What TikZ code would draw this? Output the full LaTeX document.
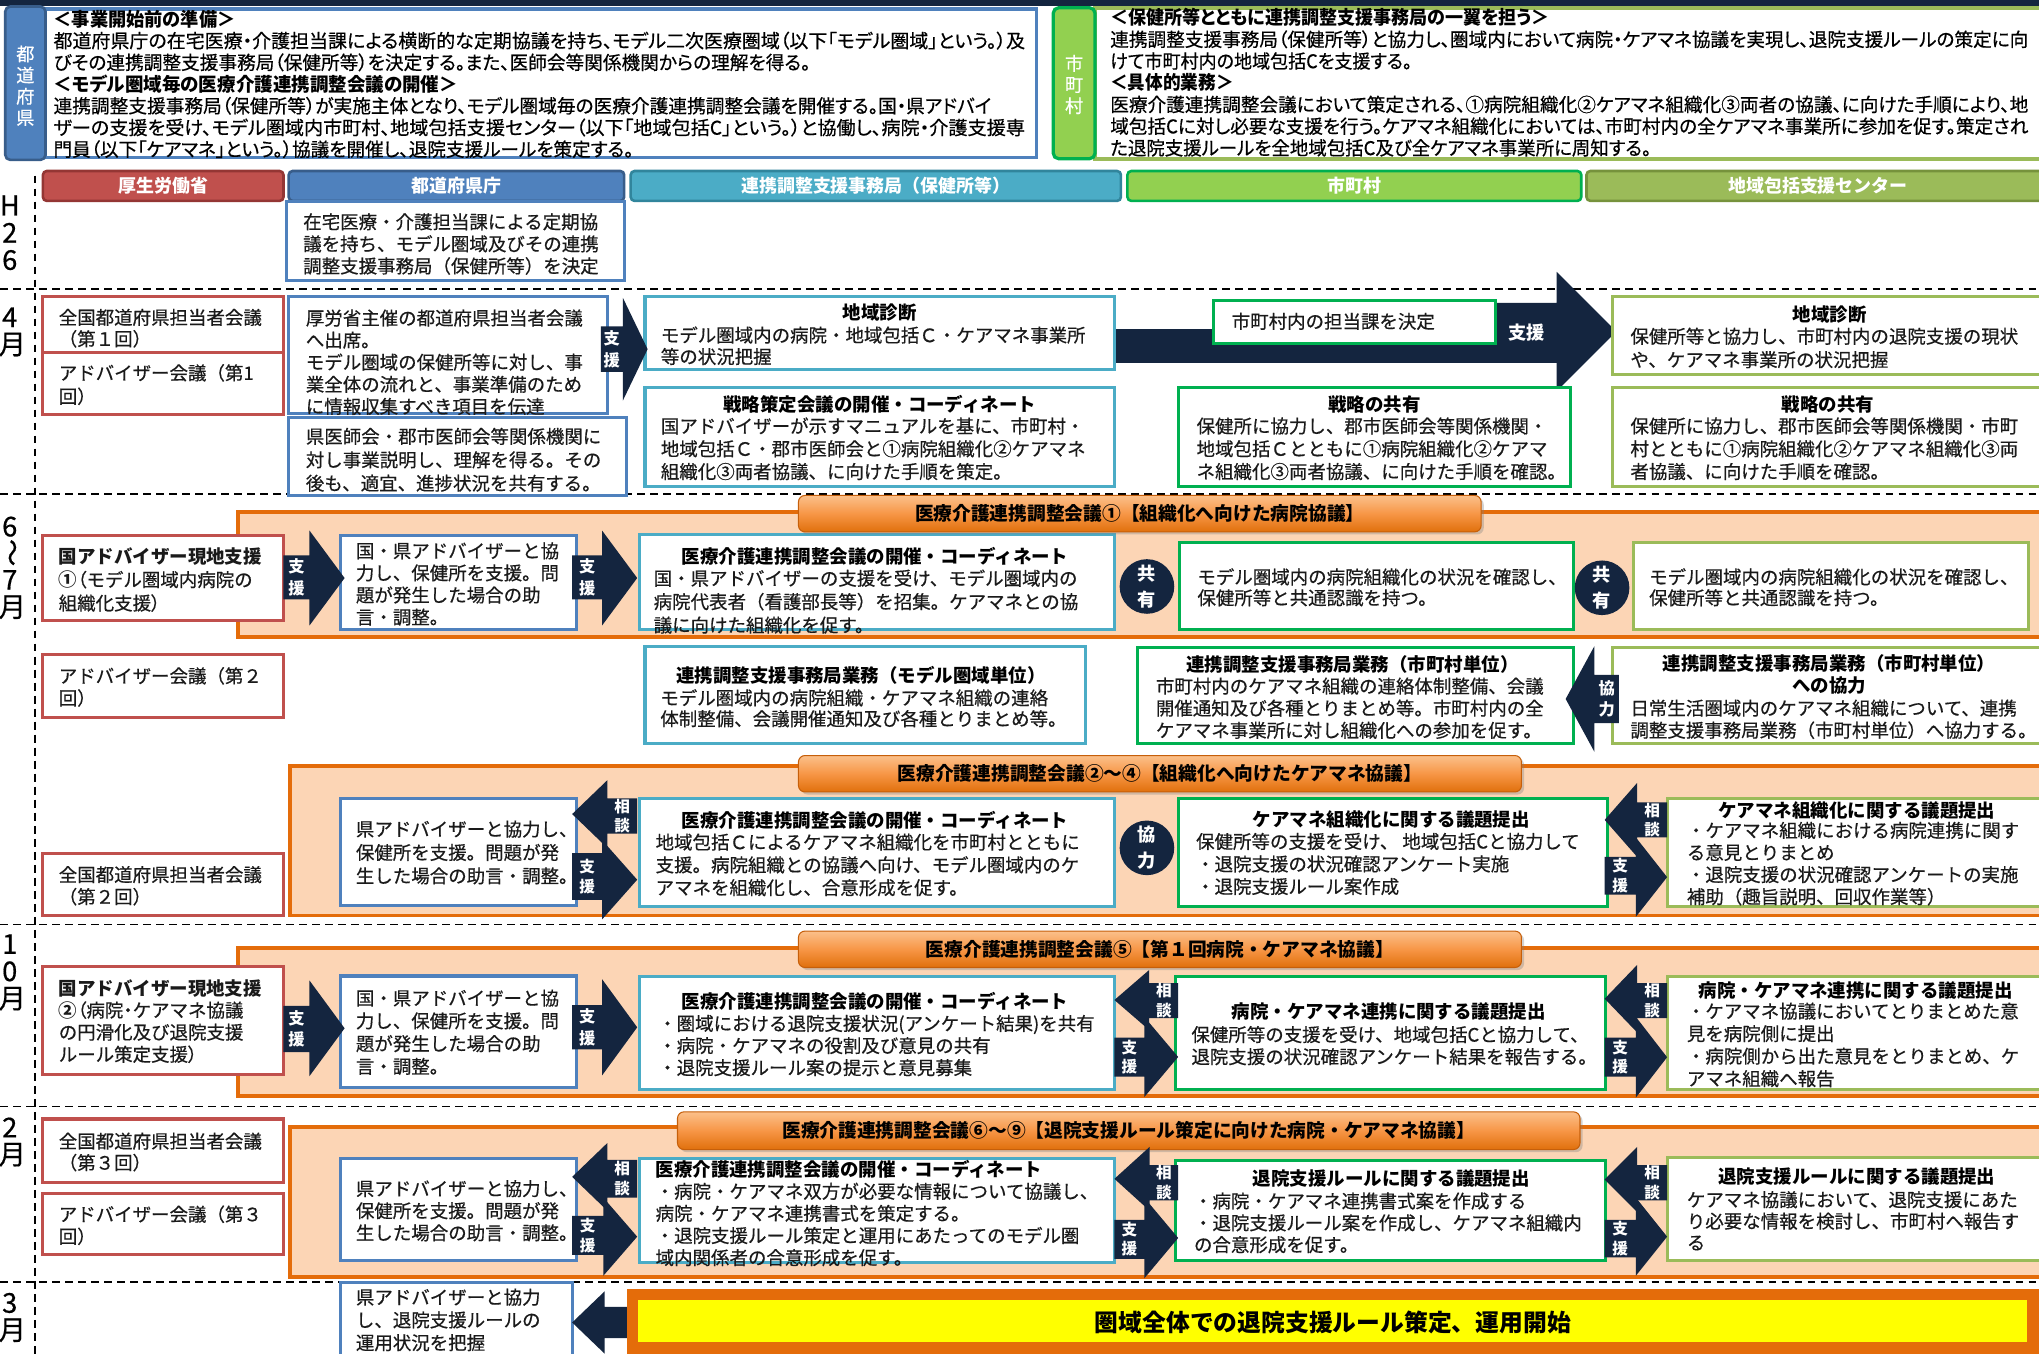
\documentclass[tikz,border=0pt]{standalone}
\usepackage{graphicx}
\usepackage{fontspec}
\setmainfont{Noto Sans CJK JP}[UprightFeatures={FakeBold=0.5}]
\newfontfamily\topfont{Noto Sans CJK JP}[RawFeature=+palt, UprightFeatures={FakeBold=0.5}]
\usetikzlibrary{fit,shadows}
\definecolor{navy}{HTML}{14253F}
\definecolor{cred}{HTML}{C0504D}
\definecolor{credd}{HTML}{943634}
\definecolor{cblue}{HTML}{4F81BD}
\definecolor{cblued}{HTML}{385D8A}
\definecolor{cteal}{HTML}{4BACC6}
\definecolor{cteald}{HTML}{31859C}
\definecolor{cgreen}{HTML}{00B050}
\definecolor{cgreenf}{HTML}{92D050}
\definecolor{colive}{HTML}{9BBB59}
\definecolor{colived}{HTML}{76923C}
\definecolor{corange}{HTML}{E46C0A}
\definecolor{cpeach}{HTML}{FCD5B5}
\definecolor{cbar}{HTML}{F79646}
\definecolor{cbart}{HTML}{FBC08A}
\definecolor{cbarb}{HTML}{E0700C}
\definecolor{cbard}{HTML}{C65F0A}
\definecolor{cyellow}{HTML}{FFFF00}
\definecolor{txt}{HTML}{1A1A1A}
\newcommand\fitln[2]{\resizebox{#1pt}{\height}{#2}}
\newcommand\arrR[7]{\fill[navy] (#1,#4) -- (#2,#4) -- (#2,#6) -- (#3,{(#6+#7)/2}) -- (#2,#7) -- (#2,#5) -- (#1,#5) -- cycle;}
\newcommand\arrL[7]{\fill[navy] (#3,#4) -- (#2,#4) -- (#2,#6) -- (#1,{(#6+#7)/2}) -- (#2,#7) -- (#2,#5) -- (#3,#5) -- cycle;}
\newcommand\mybox[6]{\node[#2, fit={(#3,#4)(#5,#6)}] (#1) {};}
\newcommand\bodyt[5][17]{\node[bt, font=\fontsize{14.2}{#1}\selectfont] (#2) at (#3,{#4-7.2}) {#5};}
\newcommand\ttlt[4]{\node[ttl] (#1) at (#2,#3) {#4};}
\tikzset{
  box/.style={draw, line width=2.4pt, fill=white, inner sep=0pt, rectangle},
  redbox/.style={box, draw=cred},
  bluebox/.style={box, draw=cblue},
  tealbox/.style={box, draw=cteal},
  greenbox/.style={box, draw=cgreen},
  olivebox/.style={box, draw=colive},
  bt/.style={anchor=north west, inner sep=0pt, align=left, text=txt, execute at begin node={\rule{0pt}{12.5pt}}},
  toptxt/.style={anchor=north west, inner sep=0pt, align=left, text=black, font=\topfont\fontsize{14.5}{16.7}\selectfont, execute at begin node={\rule{0pt}{12.5pt}}},
  ttl/.style={inner sep=0pt, text=black, font=\bfseries\fontsize{14.2}{17}\selectfont},
  hdr/.style={draw, line width=2pt, rounded corners=3pt, text=white, font=\bfseries\fontsize{13.8}{16}\selectfont, inner sep=0pt, minimum height=23pt},
  frm/.style={draw=corange, line width=3pt, fill=cpeach, inner sep=0pt},
  barst/.style={rounded corners=5pt, draw=cbard, line width=0.8pt, top color=cbart, bottom color=cbarb, middle color=cbar, drop shadow={shadow xshift=2pt, shadow yshift=-2pt, opacity=0.35}, inner sep=0pt, font=\bfseries\fontsize{14.4}{16}\selectfont, text=black},
  at1/.style={text=white, font=\bfseries\fontsize{12.5}{16.5}\selectfont, align=center, inner sep=0pt},
  at2/.style={text=white, font=\bfseries\fontsize{12}{15}\selectfont, align=center, inner sep=0pt},
  circ/.style={circle, fill=navy, minimum size=42pt, inner sep=0pt, text=white, align=center, font=\bfseries\fontsize{14}{20}\selectfont},
  mon/.style={font=\fontsize{21}{21}\selectfont, inner sep=0pt, text=black},
  lbl/.style={text=white, font=\fontsize{14}{16.3}\selectfont, align=center, inner sep=0pt},
  dsh/.style={dash pattern=on 6pt off 4pt, line width=1.3pt, black}
}
\begin{document}
\begin{tikzpicture}[x=1pt,y=-1pt]
\useasboundingbox (0,0) rectangle (1568,1041);
\fill[white] (0,0) rectangle (1568,1041);
% grid lines
\draw[dsh] (27,135) -- (27,1041);
\foreach \yy in {222,380,711,851,986} {\draw[dsh] (0,\yy) -- (1568,\yy);}
% top band
\fill[navy] (0,0) rectangle (1568,4.5);
\mybox{tlbox}{box, draw=cblue, line width=2.5pt}{35}{7}{797}{121}
\node[fit={(4,5)(35,123)}, inner sep=0pt, rounded corners=4pt, fill=cblue, draw=cblued, line width=2pt] (tllbl) {};
\node[lbl] (tllblt) at (19.5,66) {都\\道\\府\\県};
\mybox{trbox}{box, draw=colive, line width=3pt}{842}{6}{1590}{122}
\node[fit={(810,6)(842,122)}, inner sep=0pt, rounded corners=4pt, fill=cgreenf, draw=cgreen, line width=2.5pt] (trlbl) {};
\node[lbl] (trlblt) at (826,65) {市\\町\\村};
\node[toptxt] (tlt) at (41,7.4) {\fitln{140}{\bfseries ＜事業開始前の準備＞}\\
\fitln{747}{都道府県庁の在宅医療・介護担当課による横断的な定期協議を持ち、モデル二次医療圏域（以下「モデル圏域」という。）及}\\
\fitln{582}{びその連携調整支援事務局（保健所等）を決定する。また、医師会等関係機関からの理解を得る。}\\
\fitln{311}{\bfseries ＜モデル圏域毎の医療介護連携調整会議の開催＞}\\
\fitln{721}{連携調整支援事務局（保健所等）が実施主体となり、モデル圏域毎の医療介護連携調整会議を開催する。国・県アドバイ}\\
\fitln{747}{ザーの支援を受け、モデル圏域内市町村、地域包括支援センター（以下「地域包括C」という。）と協働し、病院・介護支援専}\\
\fitln{446}{門員（以下「ケアマネ」という。）協議を開催し、退院支援ルールを策定する。}};
\node[toptxt] (trt) at (853.6,6.3) {\fitln{338}{\bfseries ＜保健所等とともに連携調整支援事務局の一翼を担う＞}\\
\fitln{706}{連携調整支援事務局（保健所等）と協力し、圏域内において病院・ケアマネ協議を実現し、退院支援ルールの策定に向}\\
\fitln{232}{けて市町村内の地域包括Cを支援する。}\\
\fitln{95}{\bfseries ＜具体的業務＞}\\
\fitln{706}{医療介護連携調整会議において策定される、①病院組織化②ケアマネ組織化③両者の協議、に向けた手順により、地}\\
\fitln{706}{域包括Cに対し必要な支援を行う。ケアマネ組織化においては、市町村内の全ケアマネ事業所に参加を促す。策定され}\\
\fitln{416}{た退院支援ルールを全地域包括C及び全ケアマネ事業所に周知する。}};
% headers
\node[hdr, fill=cred, draw=credd, minimum width=185pt] (h1) at (125.5,143) {厚生労働省};
\node[hdr, fill=cblue, draw=cblued, minimum width=258pt] (h2) at (351,143) {都道府県庁};
\node[hdr, fill=cteal, draw=cteald, minimum width=377pt] (h3) at (673.5,143) {連携調整支援事務局（保健所等）};
\node[hdr, fill=cgreenf, draw=cgreen, minimum width=349pt] (h4) at (1041.5,143) {市町村};
\node[hdr, fill=colive, draw=colived, minimum width=356pt] (h5) at (1398,143) {地域包括支援センター};
% month labels
\node[mon] (mH) at (7.5,158) {H};
\node[mon] (mH2) at (7.5,179) {2};
\node[mon] (mH6) at (7.5,200) {6};
\node[mon] (m4) at (7.5,244) {4};
\node[mon] (m4m) at (9.5,265) {月};
\node[mon] (m6) at (7.5,405) {6};
\node[mon, rotate=-90] (m6w) at (7,425) {～};
\node[mon] (m7) at (7.5,446) {7};
\node[mon] (m7m) at (9.5,467) {月};
\node[mon] (m10a) at (7.5,726) {1};
\node[mon] (m10b) at (7.5,747) {0};
\node[mon] (m10m) at (9.5,768) {月};
\node[mon] (m2) at (7.5,867) {2};
\node[mon] (m2m) at (9.5,888) {月};
\node[mon] (m3) at (7.5,1002) {3};
\node[mon] (m3m) at (9.5,1023) {月};
% frames
\node[frm, fit={(183,394)(1590,490)}] (f1) {};
\node[frm, fit={(223,589)(1590,704)}] (f2) {};
\node[frm, fit={(183,729)(1590,843)}] (f3) {};
\node[frm, fit={(223,866.5)(1590,982)}] (f4) {};
% wide band arrow (April)
\fill[navy] (850,253) -- (945,253) -- (945,233) -- (1197,233) -- (1197,209) -- (1243,255) -- (1197,301) -- (1197,279) -- (850,279) -- cycle;
% boxes
\mybox{b0}{bluebox}{220}{155}{480}{216}
\mybox{r1}{redbox}{33}{228}{218}{271}
\mybox{r2}{redbox}{33}{271}{218}{319}
\mybox{b1}{bluebox}{222}{228}{467}{318}
\mybox{b2}{bluebox}{222}{321}{482}{381}
\mybox{t1}{tealbox}{496}{228}{857}{284}
\mybox{t2}{tealbox}{496}{298}{857}{374}
\mybox{g1}{greenbox}{933}{231}{1150}{264}
\mybox{g2}{greenbox}{906}{298}{1208}{374}
\mybox{o1}{olivebox}{1240}{228}{1590}{288}
\mybox{o2}{olivebox}{1240}{298}{1590}{374}
\mybox{r3}{redbox}{33}{412}{218}{477}
\mybox{b3}{bluebox}{262}{412}{443}{484}
\mybox{t3}{tealbox}{492}{411}{857}{484}
\mybox{g3}{greenbox}{907}{417}{1210}{484}
\mybox{o3}{olivebox}{1256}{417}{1560}{484}
\mybox{r4}{redbox}{33}{503}{218}{552}
\mybox{t4}{tealbox}{496}{497}{835}{572}
\mybox{g4}{greenbox}{875}{498}{1210}{572}
\mybox{o4}{olivebox}{1240}{498}{1590}{572}
\mybox{r5}{redbox}{33}{656}{218}{704}
\mybox{b5}{bluebox}{262}{614}{443}{696}
\mybox{t5}{tealbox}{492}{614}{857}{697}
\mybox{g5}{greenbox}{906}{614}{1236}{697}
\mybox{o5}{olivebox}{1282}{614}{1590}{697}
\mybox{r6}{redbox}{33}{743.5}{218}{826.5}
\mybox{b6}{bluebox}{262}{750.5}{443}{836}
\mybox{t6}{tealbox}{492}{751}{857}{838}
\mybox{g6}{greenbox}{904}{751}{1234.5}{838}
\mybox{o6}{olivebox}{1282}{751}{1590}{838}
\mybox{r7}{redbox}{33}{860.5}{218}{909}
\mybox{r8}{redbox}{33}{917.5}{218}{965}
\mybox{b7}{bluebox}{262}{891}{443}{969}
\mybox{t7}{tealbox}{492}{891}{857}{971}
\mybox{g7}{greenbox}{904}{892.6}{1234.5}{969}
\mybox{o7}{olivebox}{1282}{890}{1590}{969}
\mybox{b8}{bluebox}{262}{986}{440}{1052}
% title bars
\node[barst, minimum width=525pt, minimum height=28pt] (bar1) at (876.5,395) {医療介護連携調整会議①【組織化へ向けた病院協議】};
\node[barst, minimum width=556pt, minimum height=28pt] (bar2) at (892,595) {医療介護連携調整会議②～④【組織化へ向けたケアマネ協議】};
\node[barst, minimum width=556pt, minimum height=28pt] (bar3) at (892,730) {医療介護連携調整会議⑤【第１回病院・ケアマネ協議】};
\node[barst, minimum width=694pt, minimum height=29pt] (bar4) at (868,869.5) {医療介護連携調整会議⑥～⑨【退院支援ルール策定に向けた病院・ケアマネ協議】};
% arrows
\arrR{462}{479}{498}{251}{286}{229}{308}
\arrR{218}{238}{265}{427}{461}{408}{481}
\arrR{440}{463}{490}{427}{461}{408}{481}
\arrL{1204}{1226}{1245}{519}{556}{497}{578}
\arrL{440}{467}{490}{614}{641}{600}{652}
\arrR{440}{463}{490}{656}{692}{646}{707}
\arrL{1234}{1259}{1282}{617}{644}{602}{659}
\arrR{1234}{1258}{1282}{659}{688}{644}{705}
\arrR{218}{238}{265}{773.5}{809}{754}{827.5}
\arrR{440}{463}{490}{773}{807}{753}{827}
\arrL{857}{883.6}{906}{756}{783}{746}{792}
\arrR{857}{880}{906}{798}{828}{782}{843.6}
\arrL{1234}{1259}{1282}{756}{783}{742}{794}
\arrR{1234}{1258}{1282}{798}{828}{782}{844}
\arrL{440}{467}{490}{892}{921}{879}{931}
\arrR{440}{464}{490}{935}{965}{921}{981}
\arrL{857}{884}{906}{896}{923}{882}{931}
\arrR{857}{880}{906}{938}{968}{921}{983}
\arrL{1234}{1259}{1282}{896}{923}{882}{932}
\arrR{1234}{1258}{1282}{938}{967}{921}{981}
\arrL{440}{465}{492}{1005}{1029}{993}{1041}
% yellow final box
\node[fit={(486.5,995.5)(1563.5,1036.5)}, inner sep=0pt, draw=corange, line width=9pt, fill=cyellow] (yb) {};
\node[font=\bfseries\fontsize{18.3}{20}\selectfont, inner sep=0pt, text=black] (ybt) at (1025,1017) {圏域全体での退院支援ルール策定、運用開始};
% arrow texts
\node[font=\bfseries\fontsize{14}{16}\selectfont, text=white, inner sep=0pt] (bandt) at (1174,256) {支援};
\node[at1] (a1t) at (470.5,268.5) {支\\援};
\node[at1] (a2t) at (228,444) {支\\援};
\node[at1] (a3t) at (451.5,444) {支\\援};
\node[at1] (a4t) at (1235.5,537.5) {協\\力};
\node[at2] (d1a) at (478.5,627.5) {相\\談};
\node[at2] (d1b) at (451.5,674) {支\\援};
\node[at2] (d2a) at (1270.5,630.5) {相\\談};
\node[at2] (d2b) at (1246,673.5) {支\\援};
\node[at1] (a5t) at (228,791) {支\\援};
\node[at1] (a6t) at (451.5,790) {支\\援};
\node[at2] (d3a) at (895,769.5) {相\\談};
\node[at2] (d3b) at (868.5,813) {支\\援};
\node[at2] (d4a) at (1270.5,769.5) {相\\談};
\node[at2] (d4b) at (1246,813) {支\\援};
\node[at2] (d5a) at (478.5,906.5) {相\\談};
\node[at2] (d5b) at (452,950) {支\\援};
\node[at2] (d6a) at (895,909.5) {相\\談};
\node[at2] (d6b) at (868.5,953) {支\\援};
\node[at2] (d7a) at (1270.5,909.5) {相\\談};
\node[at2] (d7b) at (1246,952.5) {支\\援};
% circles
\node[circ] (c1) at (882,451) {共\\有};
\node[circ] (c2) at (1232,452) {共\\有};
\node[circ] (c3) at (882,652) {協\\力};
% texts H26 / April
\bodyt{b0x}{233}{171}{在宅医療・介護担当課による定期協\\議を持ち、モデル圏域及びその連携\\調整支援事務局（保健所等）を決定}
\bodyt[16.5]{r1x}{45}{244.5}{全国都道府県担当者会議\\（第１回）}
\bodyt[18]{r2x}{45}{287}{アドバイザー会議（第1\\回）}
\bodyt{b1x}{235}{245}{厚労省主催の都道府県担当者会議\\へ出席。\\モデル圏域の保健所等に対し、事\\業全体の流れと、事業準備のため\\に情報収集すべき項目を伝達}
\bodyt[18]{b2x}{235}{336}{県医師会・郡市医師会等関係機関に\\対し事業説明し、理解を得る。その\\後も、適宜、進捗状況を共有する。}
\ttlt{t1t}{676.5}{240}{地域診断}
\bodyt[16.5]{t1x}{508}{258}{モデル圏域内の病院・地域包括Ｃ・ケアマネ事業所\\等の状況把握}
\ttlt{t2t}{676.5}{311}{戦略策定会議の開催・コーディネート}
\bodyt[17.5]{t2x}{508}{328}{国アドバイザーが示すマニュアルを基に、市町村・\\地域包括Ｃ・郡市医師会と①病院組織化②ケアマネ\\組織化③両者協議、に向けた手順を策定。}
\bodyt{g1x}{947}{247}{市町村内の担当課を決定}
\ttlt{g2t}{1057}{311}{戦略の共有}
\bodyt[17.5]{g2x}{920}{328}{保健所に協力し、郡市医師会等関係機関・\\地域包括Ｃとともに①病院組織化②ケアマ\\ネ組織化③両者協議、に向けた手順を確認。}
\ttlt{o1t}{1407}{242}{地域診断}
\bodyt[18]{o1x}{1253.6}{259}{保健所等と協力し、市町村内の退院支援の現状\\や、ケアマネ事業所の状況把握}
\ttlt{o2t}{1405.6}{311}{戦略の共有}
\bodyt[17.5]{o2x}{1253.6}{328}{保健所に協力し、郡市医師会等関係機関・市町\\村とともに①病院組織化②ケアマネ組織化③両\\者協議、に向けた手順を確認。}
% June-July
\bodyt[18]{r3x}{45}{428}{{\bfseries 国アドバイザー現地支援}\\{\bfseries ①}{\topfont （}モデル圏域内病院の\\組織化支援{\topfont ）}}
\bodyt{b3x}{273.5}{424}{国・県アドバイザーと協\\力し、保健所を支援。問\\題が発生した場合の助\\言・調整。}
\ttlt{t3t}{673}{428}{医療介護連携調整会議の開催・コーディネート}
\bodyt[18]{t3x}{502.5}{445}{国・県アドバイザーの支援を受け、モデル圏域内の\\病院代表者（看護部長等）を招集。ケアマネとの協\\議に向けた組織化を促す。}
\bodyt[16]{g3x}{920.6}{444}{モデル圏域内の病院組織化の状況を確認し、\\保健所等と共通認識を持つ。}
\bodyt[16]{o3x}{1268}{444}{モデル圏域内の病院組織化の状況を確認し、\\保健所等と共通認識を持つ。}
\bodyt{r4x}{45}{520}{アドバイザー会議（第２\\回）}
\ttlt{t4t}{662}{519}{連携調整支援事務局業務（モデル圏域単位）}
\bodyt[16]{t4x}{507.6}{537}{モデル圏域内の病院組織・ケアマネ組織の連絡\\体制整備、会議開催通知及び各種とりまとめ等。}
\ttlt{g4t}{1040}{510.6}{連携調整支援事務局業務（市町村単位）}
\bodyt{g4x}{888.7}{528}{市町村内のケアマネ組織の連絡体制整備、会議\\開催通知及び各種とりまとめ等。市町村内の全\\ケアマネ事業所に対し組織化への参加を促す。}
\node[ttl, align=center, font=\bfseries\fontsize{14.2}{16.5}\selectfont] (o4t) at (1406.6,518.8) {連携調整支援事務局業務（市町村単位）\\への協力};
\bodyt{o4x}{1253.6}{545}{日常生活圏域内のケアマネ組織について、連携\\調整支援事務局業務（市町村単位）へ協力する。}
\bodyt{r5x}{45}{673}{全国都道府県担当者会議\\（第２回）}
\bodyt[18]{b5x}{273.5}{638}{県アドバイザーと協力し、\\保健所を支援。問題が発\\生した場合の助言・調整。}
\ttlt{t5t}{673}{630.6}{医療介護連携調整会議の開催・コーディネート}
\bodyt[17.5]{t5x}{504}{648}{地域包括Ｃによるケアマネ組織化を市町村とともに\\支援。病院組織との協議へ向け、モデル圏域内のケ\\アマネを組織化し、合意形成を促す。}
\ttlt{g5t}{1070}{630}{ケアマネ組織化に関する議題提出}
\bodyt[17.3]{g5x}{919.6}{647.5}{保健所等の支援を受け、 地域包括Cと協力して\\・退院支援の状況確認アンケート実施\\・退院支援ルール案作成}
\ttlt{o5t}{1428}{623}{ケアマネ組織化に関する議題提出}
\bodyt{o5x}{1297}{639}{・ケアマネ組織における病院連携に関す\\る意見とりまとめ\\・退院支援の状況確認アンケートの実施\\補助（趣旨説明、回収作業等）}
% October
\bodyt{r6x}{45}{760}{{\bfseries 国アドバイザー現地支援}\\{\bfseries ②}{\topfont （}病院{\topfont ・}ケアマネ協議\\の円滑化及び退院支援\\ルール策定支援{\topfont ）}}
\bodyt[17.5]{b6x}{273.5}{768}{国・県アドバイザーと協\\力し、保健所を支援。問\\題が発生した場合の助\\言・調整。}
\ttlt{t6t}{673}{770}{医療介護連携調整会議の開催・コーディネート}
\bodyt{t6x}{506}{787.5}{・圏域における退院支援状況(アンケート結果)を共有\\・病院・ケアマネの役割及び意見の共有\\・退院支援ルール案の提示と意見募集}
\ttlt{g6t}{1068}{778}{病院・ケアマネ連携に関する議題提出}
\bodyt{g6x}{916}{796}{保健所等の支援を受け、地域包括Cと協力して、\\退院支援の状況確認アンケート結果を報告する。}
\ttlt{o6t}{1427}{762}{病院・ケアマネ連携に関する議題提出}
\bodyt[17.3]{o6x}{1297}{778}{・ケアマネ協議においてとりまとめた意\\見を病院側に提出\\・病院側から出た意見をとりまとめ、ケ\\アマネ組織へ報告}
% February
\bodyt[16.5]{r7x}{45}{878}{全国都道府県担当者会議\\（第３回）}
\bodyt{r8x}{45}{934}{アドバイザー会議（第３\\回）}
\bodyt{b7x}{273.5}{914.5}{県アドバイザーと協力し、\\保健所を支援。問題が発\\生した場合の助言・調整。}
\node[ttl, anchor=west] (t7t) at (504,899) {医療介護連携調整会議の開催・コーディネート};
\bodyt{t7x}{504}{916.5}{・病院・ケアマネ双方が必要な情報について協議し、\\病院・ケアマネ連携書式を策定する。\\・退院支援ルール策定と運用にあたってのモデル圏\\域内関係者の合意形成を促す。}
\ttlt{g7t}{1070}{906}{退院支援ルールに関する議題提出}
\bodyt[16.8]{g7x}{918}{924}{・病院・ケアマネ連携書式案を作成する\\・退院支援ルール案を作成し、ケアマネ組織内\\の合意形成を促す。}
\ttlt{o7t}{1428}{905}{退院支援ルールに関する議題提出}
\bodyt[16.5]{o7x}{1297}{923}{ケアマネ協議において、退院支援にあた\\り必要な情報を検討し、市町村へ報告す\\る}
% March
\bodyt[17.5]{b8x}{273.5}{998}{県アドバイザーと協力\\し、退院支援ルールの\\運用状況を把握}
\end{tikzpicture}
\end{document}
